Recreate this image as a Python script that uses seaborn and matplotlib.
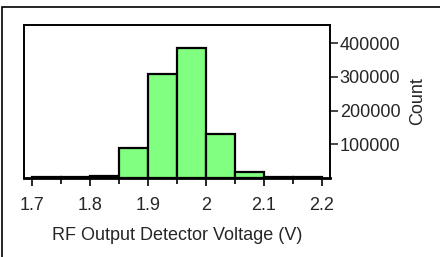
import numpy as np
import pandas as pd
import matplotlib
matplotlib.use("Agg")
import matplotlib.pyplot as plt
from matplotlib.patches import Rectangle
from matplotlib.ticker import MultipleLocator
import seaborn as sns

# histogram bins (V) and counts
bin_left = [1.70, 1.75, 1.80, 1.85, 1.90, 1.95, 2.00, 2.05, 2.10, 2.15]
counts = [1500, 1500, 7000, 88000, 310000, 386000, 130000, 17000, 2000, 1500]
bin_width = 0.05
y_ticks = [100000, 200000, 300000, 400000]

df = pd.DataFrame({'Voltage': np.array(bin_left) + bin_width / 2, 'Count': counts})

sns.set_style("white")
plt.rcParams['font.family'] = ['Liberation Sans', 'DejaVu Sans']

fig = plt.figure(figsize=(4.4, 2.57), dpi=100)
ax = fig.add_axes([24 / 440, 1 - 178 / 257, 306 / 440, 153 / 257])

sns.histplot(data=df, x='Voltage', weights='Count', binwidth=bin_width,
             binrange=(bin_left[0], bin_left[-1] + bin_width),
             color='#80ff80', alpha=1, edgecolor='black', linewidth=1.6, ax=ax)

ax.set_xlim(1.686, 2.214)
ax.set_ylim(0, 454000)
ax.xaxis.set_minor_locator(MultipleLocator(0.05))
ax.set_xticks([1.7, 1.8, 1.9, 2.0, 2.1, 2.2])
ax.set_xticklabels(['1.7', '1.8', '1.9', '2', '2.1', '2.2'])
ax.set_yticks(y_ticks)
ax.set_yticklabels([str(v) for v in y_ticks])

ax.yaxis.tick_right()
ax.yaxis.set_label_position('right')
ax.tick_params(axis='x', which='major', direction='out', length=6, width=1.4,
               labelsize=13, pad=8, bottom=True)
ax.tick_params(axis='x', which='minor', direction='out', length=4, width=1.4, bottom=True)
ax.tick_params(axis='y', direction='out', length=6, width=1.2, labelsize=13, pad=1,
               right=True, left=False)

for s in ax.spines.values():
    s.set_color('black')
    s.set_linewidth(1.4)
ax.spines['bottom'].set_linewidth(2)

ax.set_xlabel('RF Output Detector Voltage (V)', fontsize=13, labelpad=9)
ax.set_ylabel('Count', fontsize=13, labelpad=6, rotation=90)

# outer frame of the figure
fig.add_artist(Rectangle((2 / 440, -0.2), 1.2, 1.2 - 7 / 257,
                         transform=fig.transFigure, fill=False,
                         edgecolor='black', linewidth=1.2))

fig.savefig('out.png', dpi=100)
